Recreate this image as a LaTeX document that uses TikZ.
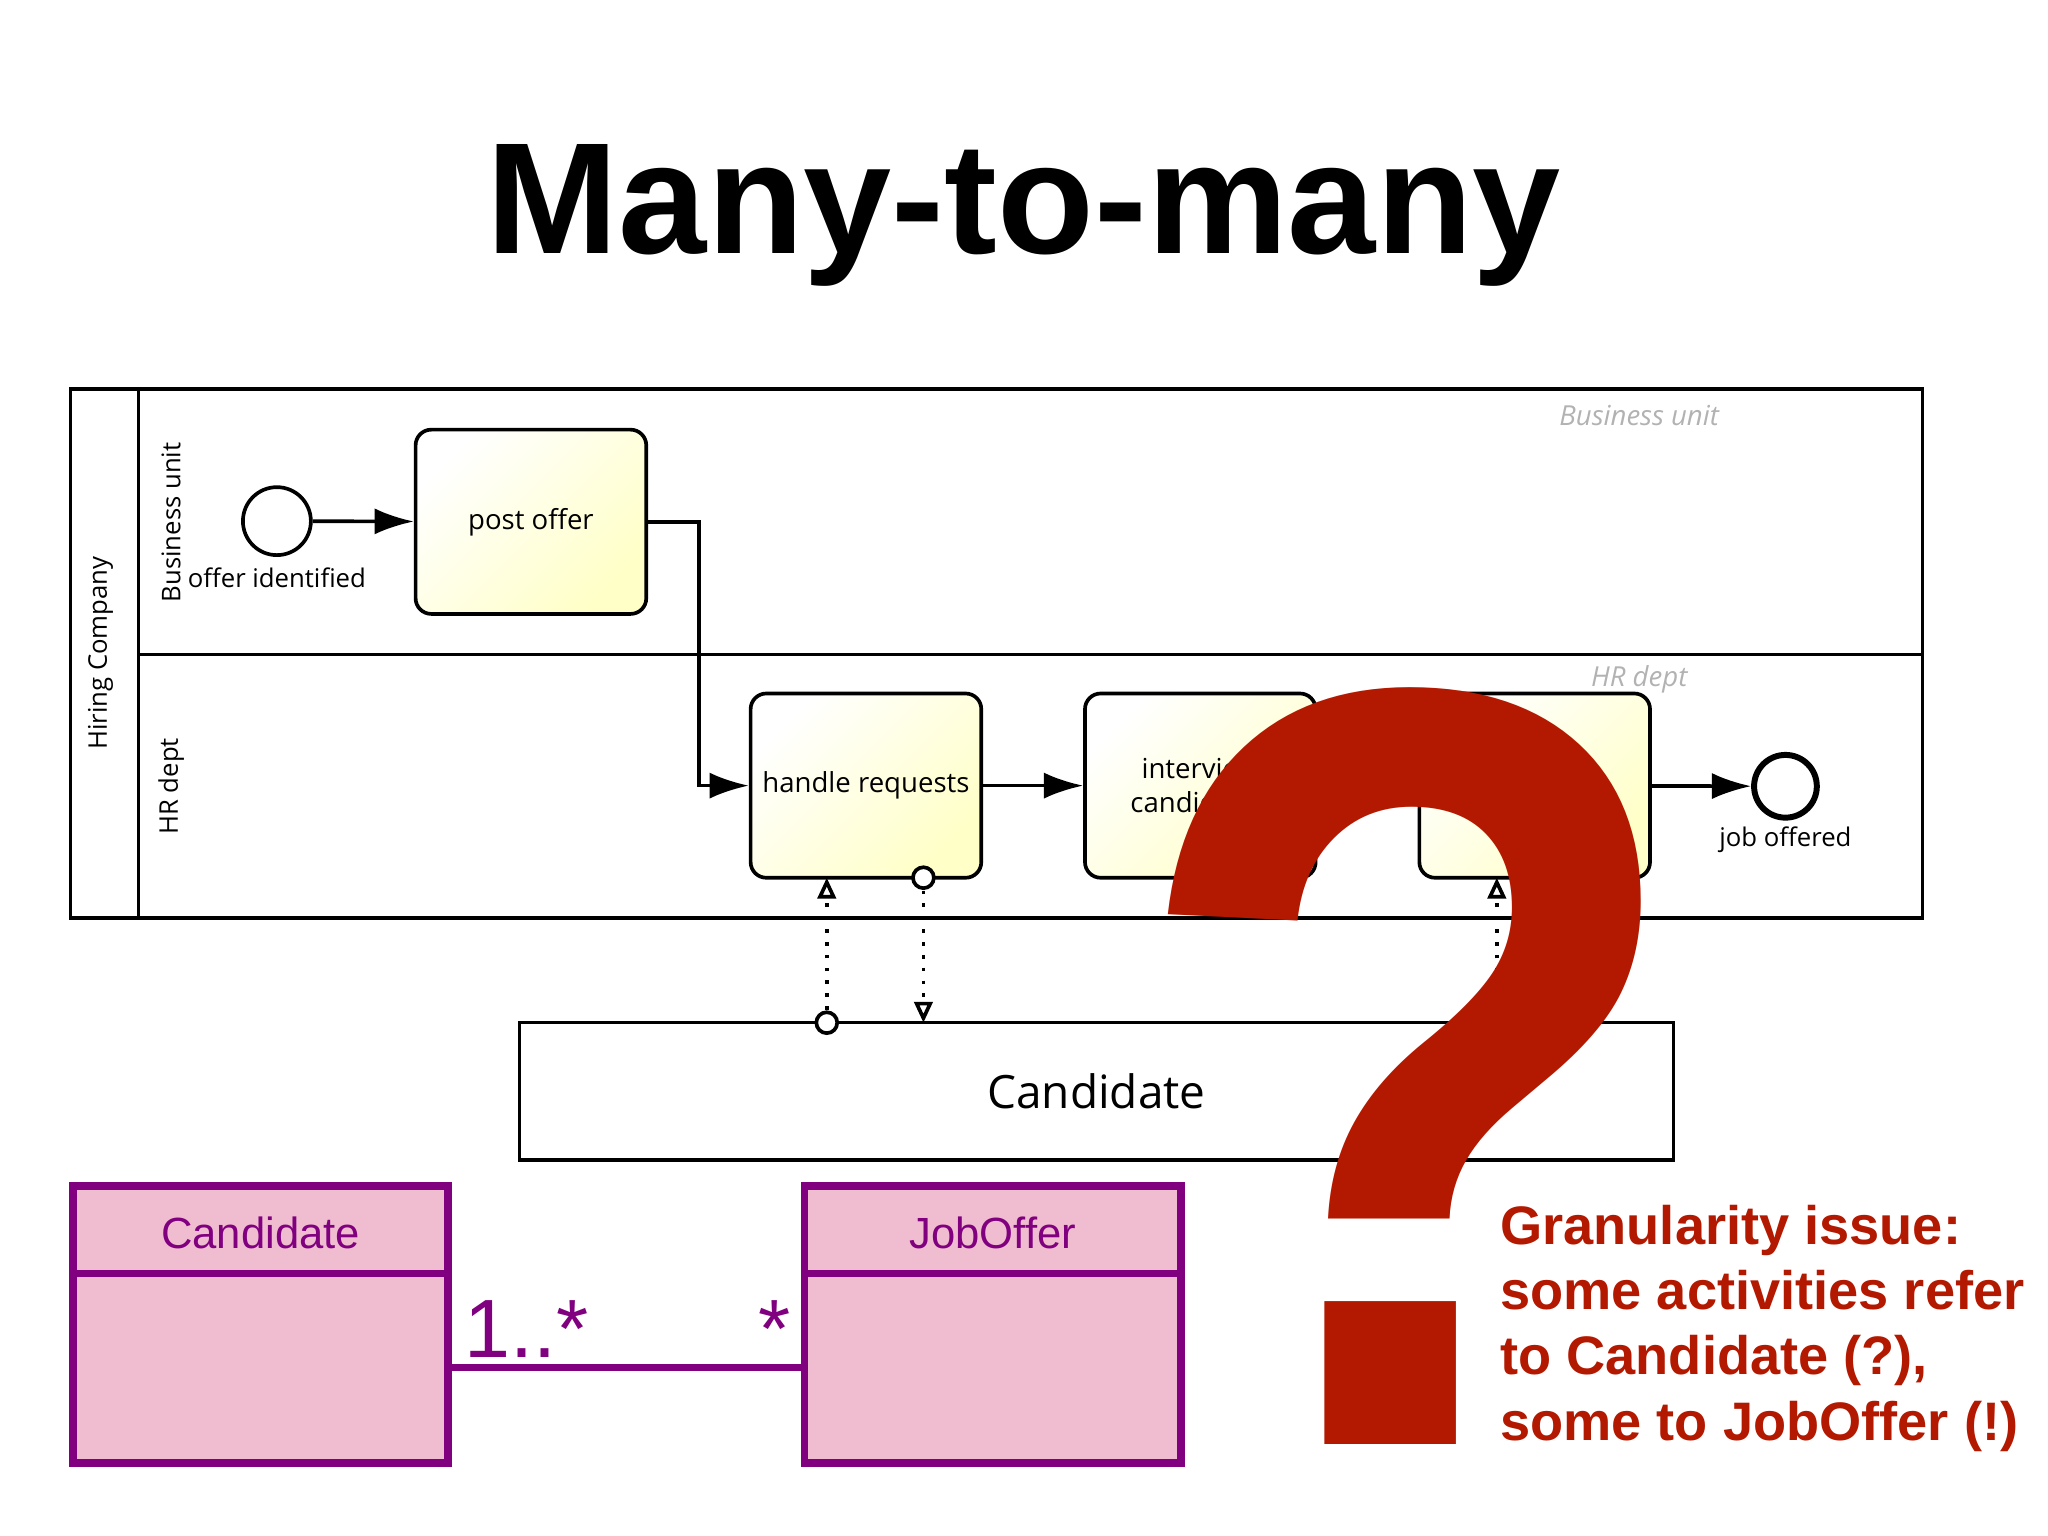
\documentclass[tikz,border=0pt]{standalone}
\usepackage{fontspec}
\setmainfont{Open Sans}
\newfontfamily\hel{Liberation Sans}
\usetikzlibrary{arrows.meta}
\definecolor{qred}{HTML}{B31800}
\definecolor{umlp}{HTML}{800080}
\definecolor{umlf}{HTML}{F0BCD0}
\begin{document}
\begin{tikzpicture}[x=0.01cm,y=-0.01cm,
  task/.style={draw,rounded corners=0.12cm,thick,left color=white,right color=yellow!22,shading angle=45,font=\fontsize{6}{7.3}\selectfont,align=center,minimum width=1.765cm,minimum height=1.41cm,inner sep=1pt},
  flow/.style={thick,-{Latex[length=0.3cm,width=0.2cm]}},
  assoc/.style={thick,dotted,-{Triangle[open,length=0.16cm,width=0.14cm]}},
  uml/.style={draw=umlp,line width=1.7pt,fill=umlf},
  lbl/.style={font=\fontsize{5.6}{7}\selectfont}]
\useasboundingbox (0,0) rectangle (1568,1176);
\node[font=\hel\bfseries\fontsize{34.5}{40}\selectfont] (title) at (784,165) {Many-to-many};
% pool
\draw[thick] (54,298) rectangle (1472,703);
\draw[thick] (106,298) -- (106,703);
\draw[thick] (106,501) -- (1472,501);
\node[lbl,rotate=90] (hc) at (77,500) {Hiring Company};
\node[lbl,rotate=90] (bu) at (131,400) {Business unit};
\node[lbl,rotate=90] (hr) at (131,602) {HR dept};
\node[gray!60,font=\itshape\fontsize{6}{7.5}\selectfont] (bul) at (1255,318) {Business unit};
\node[gray!60,font=\itshape\fontsize{6}{7.5}\selectfont] (hrl) at (1255,520) {HR dept};
% nodes
\node[draw,thick,circle,minimum size=0.52cm,inner sep=0] (s) at (212,399) {};
\node[lbl] (sl) at (212,442) {offer identified};
\node[task] (p) at (406.5,399.5) {post offer};
\node[task] (h) at (663,601.5) {handle requests};
\node[task] (i) at (919,601.5) {interview\\candidates};
\node[task] (m) at (1175,601.5) {};
\node[draw,line width=1.3pt,circle,minimum size=0.48cm,inner sep=0] (e) at (1367,602) {};
\node[lbl] (el) at (1367,643) {job offered};
\draw[flow] (s) -- (p);
\draw[flow] (p.east) -| (535,500) |- (h.west);
\draw[flow] (h) -- (i);
\draw[flow] (i) -- (m);
\draw[flow] (m) -- (e);
% data object
\node[draw,thick,minimum width=8.83cm,minimum height=1.05cm,font=\fontsize{10}{12}\selectfont] (c) at (839.5,835.5) {Candidate};
\coordinate (a1) at (633,783); \coordinate (a2) at (633,672);
\coordinate (b1) at (707,672); \coordinate (b2) at (707,783);
\coordinate (c1) at (1146,783); \coordinate (c2) at (1146,672);
\draw[assoc] (a1) -- (a2);
\draw[assoc] (b1) -- (b2);
\draw[assoc] (c1) -- (c2);
\draw[thick,fill=white] (a1) circle (0.08cm);
\draw[thick,fill=white] (b1) circle (0.08cm);
% UML
\draw[uml] (56,908) rectangle (343,1120);
\draw[uml] (56,908) rectangle (343,975);
\draw[uml] (616,908) rectangle (904,1120);
\draw[uml] (616,908) rectangle (904,975);
\node[text=umlp,font=\hel\fontsize{9.5}{11}\selectfont] (uc) at (199.5,944) {Candidate};
\node[text=umlp,font=\hel\fontsize{9.5}{11}\selectfont] (uj) at (760,944) {JobOffer};
\coordinate (l1) at (343,1047); \coordinate (l2) at (616,1047);
\draw[draw=umlp,line width=1.7pt] (l1) -- (l2);
\node[text=umlp,font=\hel\fontsize{18}{18}\selectfont,anchor=south west,inner sep=0] (m1) at (355,1040) {1..*};
\node[text=umlp,font=\hel\fontsize{18}{18}\selectfont,anchor=south east,inner sep=0] (m2) at (606,1040) {*};
% question mark
\node[text=qred,font=\hel\bfseries\fontsize{236}{236}\selectfont,inner sep=0,anchor=south,xscale=0.86] (q) at (1080,1107) {?};
\node[text=qred,font=\hel\bfseries\fontsize{11.8}{14.2}\selectfont,align=left,anchor=north west,inner sep=0] (t) at (1148,922) {Granularity issue:\\some activities refer\\to Candidate (?),\\some to JobOffer (!)};
\end{tikzpicture}
\end{document}
